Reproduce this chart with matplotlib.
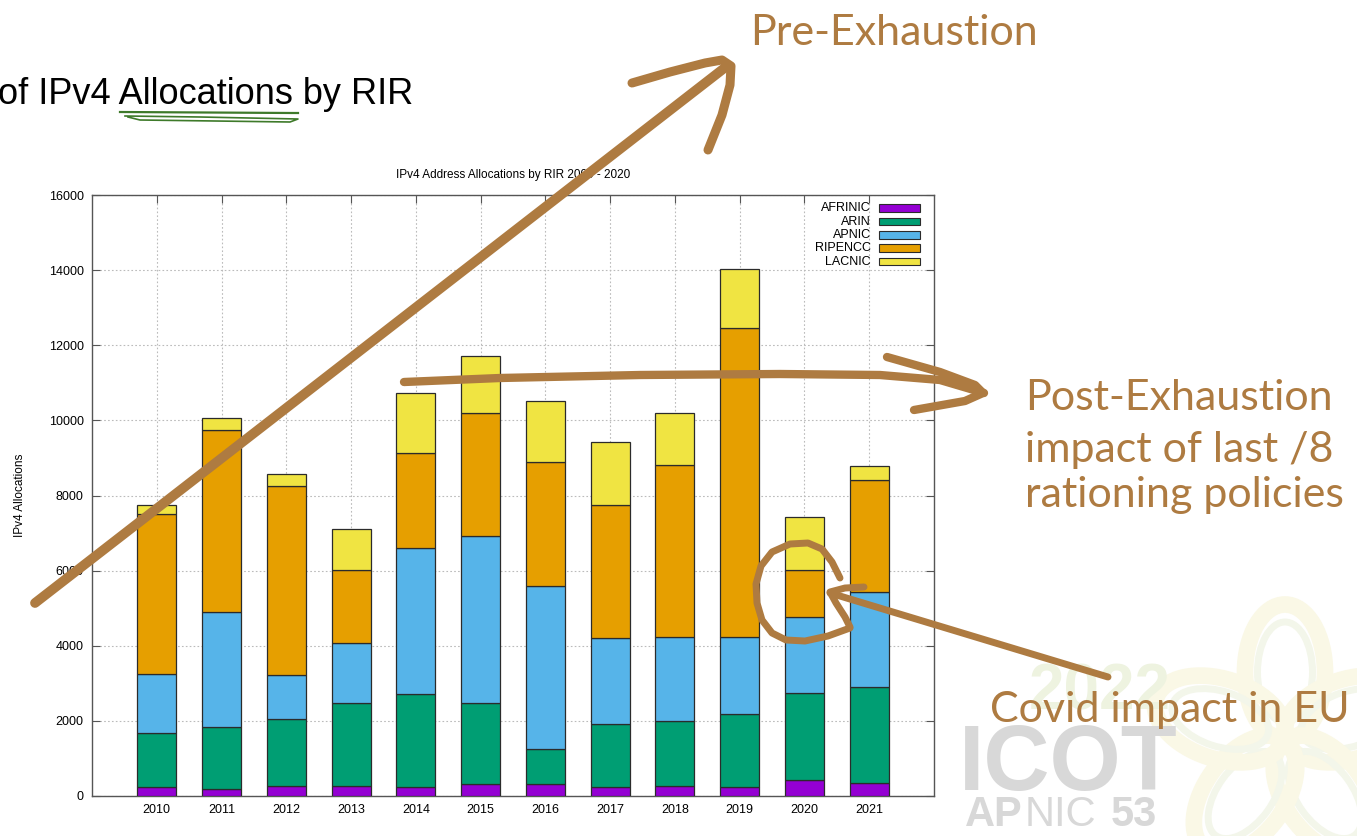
import matplotlib
matplotlib.use("Agg")
import matplotlib.pyplot as plt
import numpy as np
from matplotlib.patches import Rectangle, Ellipse

plt.rcParams['font.family'] = ['Liberation Sans', 'DejaVu Sans']

years = [2010, 2011, 2012, 2013, 2014, 2015, 2016, 2017, 2018, 2019, 2020, 2021]
series_names = ["AFRINIC", "ARIN", "APNIC", "RIPENCC", "LACNIC"]
afrinic = [238, 197, 259, 259, 249, 311, 311, 238, 259, 238, 435, 342]
arin = [1430, 1627, 1803, 2207, 2456, 2155, 933, 1689, 1741, 1938, 2301, 2570]
apnic = [1576, 3067, 1161, 1596, 3906, 4456, 4341, 2291, 2238, 2062, 2041, 2528]
ripencc = [4258, 4840, 5026, 1959, 2508, 3285, 3296, 3533, 4581, 8228, 1233, 2975]
lacnic = [249, 321, 311, 1077, 1617, 1513, 1637, 1679, 1368, 1555, 1420, 362]
colors = ["#9400D3", "#009E73", "#56B4E9", "#E69F00", "#F0E442"]
y_ticks = [0, 2000, 4000, 6000, 8000, 10000, 12000, 14000, 16000]

chart_title = "IPv4 Address Allocations by RIR 2009 - 2020"
y_label = "IPv4 Allocations"
slide_title = "of IPv4 Allocations by RIR"
note_pre = "Pre-Exhaustion"
note_post_lines = ["Post-Exhaustion", "impact of last /8", "rationing policies"]
note_covid = "Covid impact in EU"
logo_year = "2022"
logo_main = "ICOT"
logo_parts = [("AP", "bold"), ("NIC", "normal"), ("53", "bold")]

W, H = 1357, 836
fig = plt.figure(figsize=(W / 100, H / 100), dpi=100)
fig.patch.set_facecolor("white")
renderer = fig.canvas.get_renderer()

# ---- watermark / background layer ----
bg = fig.add_axes([0, 0, 1, 1], zorder=0)
bg.set_xlim(0, W)
bg.set_ylim(H, 0)
bg.axis("off")
for ang in range(0, 360, 72):
    a = np.deg2rad(ang - 90)
    cx, cy = 1285 + 68 * np.cos(a), 740 + 68 * np.sin(a)
    bg.add_patch(Ellipse((cx, cy), 80, 135, angle=ang, fill=False,
                         edgecolor="#FAF8E6", lw=12, zorder=0))
    bg.add_patch(Ellipse((cx, cy), 55, 100, angle=ang, fill=False,
                         edgecolor="#F3F6EA", lw=5, zorder=0))
bg.text(1100, 710, logo_year, fontsize=46, fontweight="bold", color="#EEF3E0",
        ha="center", va="baseline", zorder=1)
bg.text(1068, 790, logo_main, fontsize=66, fontweight="bold", color="#D8D8D8",
        ha="center", va="baseline", zorder=1)
xx = 965
for i, (txt, wt) in enumerate(logo_parts):
    t = bg.text(xx, 826, txt, fontsize=30, fontweight=wt, color="#D8D8D8",
                ha="left", va="baseline", zorder=1)
    bb = t.get_window_extent(renderer=renderer)
    xx += bb.width + (14 if i == 1 else 2)

# slide title
bg.text(-2, 104, slide_title, fontsize=26, color="black", ha="left", va="baseline")
bg.plot([120, 292, 298], [112, 113, 113], color="#3E7A2A", lw=1.6)
bg.plot([125, 200, 298, 290, 140, 128], [116, 117, 119, 122, 120, 117], color="#3E7A2A", lw=1.2)

# ---- chart ----
ax = fig.add_axes([92 / W, 1 - 796 / H, (934 - 92) / W, (796 - 195) / H], zorder=2)
ax.patch.set_alpha(0)
bottom = np.zeros(len(years))
for name, vals, col in zip(series_names, [afrinic, arin, apnic, ripencc, lacnic], colors):
    ax.bar(years, vals, width=0.6, bottom=bottom, color=col, edgecolor="#2b2b2b",
           linewidth=0.9, zorder=3, label=name)
    bottom += np.array(vals)

ax.set_xlim(2009, 2022)
ax.set_ylim(0, 16000)
ax.set_xticks(years)
ax.set_xticklabels([str(y) for y in years], fontsize=9)
ax.set_yticks(y_ticks)
ax.set_yticklabels([str(v) for v in y_ticks], fontsize=9)
ax.tick_params(direction="in", length=6, top=True, right=True, color="#555555", pad=6)
ax.grid(True, color="#BBBBBB", linestyle=(0, (1.5, 2)), linewidth=0.8, zorder=0)
for s in ax.spines.values():
    s.set_color("#555555")
    s.set_linewidth(1.0)
ax.set_title(chart_title, fontsize=8.5, pad=12)
ax.set_ylabel(y_label, fontsize=8.5, labelpad=16)

row_h = 0.0222
for i, (name, col) in enumerate(zip(series_names, colors)):
    yy = 0.978 - i * row_h
    ax.text(0.925, yy, name, transform=ax.transAxes, ha="right", va="center", fontsize=9, zorder=6)
    ax.add_patch(Rectangle((0.935, yy - 0.0065), 0.048, 0.013, transform=ax.transAxes,
                           facecolor=col, edgecolor="#2b2b2b", lw=0.8, zorder=6))

# ---- handwritten overlay ----
ov = fig.add_axes([0, 0, 1, 1], zorder=5)
ov.set_xlim(0, W)
ov.set_ylim(H, 0)
ov.axis("off")
ov.patch.set_alpha(0)
brown = "#AE7B41"
kw = dict(color=brown, solid_capstyle="round", solid_joinstyle="round")
hand = ["Lato", "DejaVu Sans"]
# pre-exhaustion arrow
ov.plot([35, 727], [603, 66], lw=7, **kw)
ov.plot([632, 670, 705, 722, 731, 730, 722, 708], [83, 72, 63, 60, 66, 85, 115, 150], lw=6.5, **kw)
ov.text(750, 45, note_pre, fontsize=31, color=brown, ha="left", va="baseline", family=hand)
# post-exhaustion arrow
ov.plot([404, 500, 640, 780, 880, 940, 984], [382, 378, 375, 374, 375, 380, 393], lw=6, **kw)
ov.plot([887, 940, 975, 983, 965, 914], [357, 372, 385, 393, 401, 410], lw=6, **kw)
for line, base in zip(note_post_lines, [410, 462, 507]):
    ov.text(1025, base, line, fontsize=31, color=brown, ha="left", va="baseline", family=hand)
# covid circle + arrow
circ_x = [840, 832, 822, 808, 790, 772, 761, 756, 757, 762, 772, 786, 805, 828, 850]
circ_y = [578, 562, 549, 543, 544, 552, 566, 584, 603, 620, 633, 640, 641, 636, 628]
ov.plot(circ_x, circ_y, lw=5, **kw)
ov.plot([1108, 830], [677, 593], lw=5, **kw)
ov.plot([864, 845, 830, 836, 845, 850], [587, 588, 592, 603, 617, 627], lw=5, **kw)
ov.text(990, 722, note_covid, fontsize=31, color=brown, ha="left", va="baseline", family=hand)

fig.savefig("out.png", dpi=100)
